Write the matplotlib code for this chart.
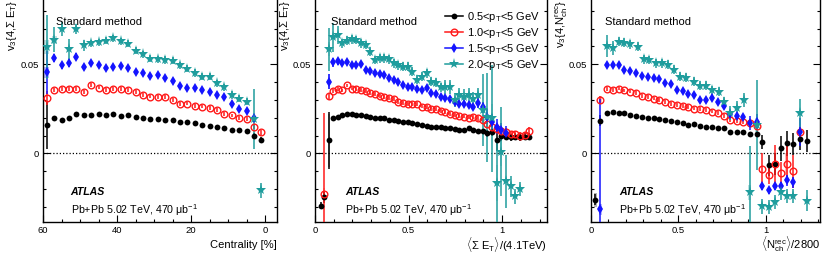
import numpy as np
import matplotlib
matplotlib.use("Agg")
from matplotlib import pyplot as plt
from matplotlib.lines import Line2D
from matplotlib.ticker import MultipleLocator

plt.rcParams["font.family"] = ["Liberation Sans", "DejaVu Sans"]
plt.rcParams["mathtext.fontset"] = "custom"
plt.rcParams["mathtext.rm"] = "Liberation Sans"
plt.rcParams["mathtext.it"] = "Liberation Sans:italic"
plt.rcParams["mathtext.bf"] = "Liberation Sans:bold"

LABELS = [r"0.5<p$_\mathrm{T}$<5 GeV", r"1.0<p$_\mathrm{T}$<5 GeV",
          r"1.5<p$_\mathrm{T}$<5 GeV", r"2.0<p$_\mathrm{T}$<5 GeV"]

nan = np.nan

# ---- panel 1: centrality
cent = [59, 57, 55, 53, 51, 49, 47, 45, 43, 41, 39, 37, 35, 33, 31, 29, 27, 25, 23, 21,
        19, 17, 15, 13, 11, 9, 7, 5, 3, 1]
cent_black = [0.0157, 0.0196, 0.0185, 0.0198, 0.0220, 0.0216, 0.0216, 0.0220, 0.0218, 0.0220,
              0.0210, 0.0216, 0.0203, 0.0200, 0.0194, 0.0192, 0.0187, 0.0185, 0.0174, 0.0175,
              0.0168, 0.0162, 0.0155, 0.0149, 0.0142, 0.0134, 0.0132, 0.0125, 0.0099, 0.0077]
cent_red = [0.0312, 0.0356, 0.0360, 0.0362, 0.0360, 0.0343, 0.0384, 0.0369, 0.0356, 0.0362,
            0.0360, 0.0356, 0.0345, 0.0328, 0.0319, 0.0317, 0.0315, 0.0300, 0.0276, 0.0280,
            0.0267, 0.0263, 0.0256, 0.0244, 0.0222, 0.0213, 0.0200, 0.0194, 0.0151, 0.0119]
cent_blue = [0.0455, 0.0535, 0.0493, 0.0507, 0.0543, 0.0485, 0.0509, 0.0496, 0.0480, 0.0483,
             0.0491, 0.0480, 0.0457, 0.0450, 0.0435, 0.0438, 0.0422, 0.0407, 0.0379, 0.0368,
             0.0366, 0.0353, 0.0347, 0.0328, 0.0319, 0.0278, 0.0252, 0.0239, 0.0198, nan]
cent_teal = [0.0595, 0.0636, 0.0698, 0.0584, 0.0698, 0.0606, 0.0618, 0.0623, 0.0632, 0.0645,
             0.0629, 0.0616, 0.0576, 0.0556, 0.0532, 0.0528, 0.0524, 0.0519, 0.0494, 0.0474,
             0.0451, 0.0431, 0.0429, 0.0394, 0.0371, 0.0328, 0.0308, 0.0289, 0.0194, -0.0207]
cent_black_err = [0.013] + [0.001] * 27 + [0.0015, 0.0015]
cent_red_err = [0.004] + [0.001] * 27 + [0.0015, 0.0015]
cent_blue_err = [0.012, 0.002, 0.002, 0.002, 0.002] + [0.0015] * 23 + [0.002, 0.002]
cent_teal_err = [0.018, 0.007, 0.004, 0.006, 0.003, 0.003] + [0.002] * 22 + [0.017, 0.004]
cent_syst = [{}, {}, {0: 0.003}, {0: 0.004, 1: 0.002}]

# ---- panel 2: <Sum ET>/(4.1 TeV)
et_x = [0.034, 0.048, 0.075, 0.096, 0.121, 0.146, 0.171, 0.196, 0.221, 0.246, 0.271, 0.296,
        0.321, 0.346, 0.371, 0.396, 0.421, 0.446, 0.471, 0.496, 0.521, 0.546, 0.571, 0.596,
        0.621, 0.646, 0.671, 0.696, 0.721, 0.746, 0.771, 0.796, 0.821, 0.846, 0.871, 0.896,
        0.921, 0.946, 0.971, 0.996, 1.021, 1.046, 1.071, 1.096, 1.121, 1.146]
et_black = [-0.0293, -0.0245, 0.0073, 0.0198, 0.0207, 0.0216, 0.0220, 0.0220, 0.0216, 0.0213,
            0.0209, 0.0205, 0.0201, 0.0198, 0.0196, 0.0190, 0.0187, 0.0181, 0.0179, 0.0175,
            0.0170, 0.0164, 0.0157, 0.0153, 0.0151, 0.0149, 0.0147, 0.0144, 0.0142, 0.0136,
            0.0132, 0.0129, 0.0140, 0.0132, 0.0127, 0.0125, 0.0114, 0.0118, 0.0076, 0.0099,
            0.0095, 0.0091, 0.0095, 0.0091, 0.0095, 0.0093]
et_red = [nan, -0.0226, 0.0321, 0.0349, 0.0360, 0.0353, 0.0381, 0.0364, 0.0360, 0.0356,
          0.0349, 0.0338, 0.0332, 0.0323, 0.0317, 0.0310, 0.0304, 0.0289, 0.0282, 0.0278,
          0.0278, 0.0276, 0.0263, 0.0259, 0.0248, 0.0248, 0.0239, 0.0231, 0.0222, 0.0216,
          0.0211, 0.0207, 0.0201, 0.0203, 0.0196, 0.0185, 0.0166, 0.0151, 0.0138, 0.0127,
          0.0123, 0.0108, 0.0108, 0.0099, 0.0103, 0.0127]
et_blue = [nan, nan, 0.0403, 0.0511, 0.0517, 0.0506, 0.0513, 0.0493, 0.0494, 0.0500,
           0.0468, 0.0461, 0.0453, 0.0448, 0.0440, 0.0425, 0.0412, 0.0399, 0.0382, 0.0375,
           0.0375, 0.0360, 0.0356, 0.0366, 0.0341, 0.0334, 0.0319, 0.0313, 0.0304, 0.0289,
           0.0278, 0.0276, 0.0274, 0.0259, 0.0285, 0.0259, 0.0207, 0.0179, 0.0151, 0.0132,
           0.0114, nan, nan, nan, nan, nan]
et_teal = [nan, nan, 0.0584, 0.0651, 0.0664, 0.0618, 0.0632, 0.0640, 0.0636, 0.0618,
           0.0608, 0.0571, 0.0524, 0.0534, 0.0534, 0.0528, 0.0506, 0.0494, 0.0487, 0.0487,
           0.0459, 0.0412, 0.0431, 0.0450, 0.0403, 0.0397, 0.0371, 0.0371, 0.0371, 0.0300,
           0.0328, 0.0319, 0.0328, 0.0306, 0.0328, 0.0244, 0.0203, 0.0198, -0.0166, 0.0011,
           -0.0157, -0.0185, -0.0241, -0.0200, nan, nan]
et_black_err = [0.002, 0.003, 0.016] + [0.001] * 33 + [0.002, 0.002, 0.006, 0.003,
                                                      0.002, 0.002, 0.002, 0.002, 0.002, 0.002]
et_red_err = [0.0, 0.045, 0.002] + [0.001] * 31 + [0.0015] * 6 + [0.002] * 6
et_blue_err = [0.0, 0.0, 0.004, 0.0025, 0.002] + [0.0015] * 29 + [0.003, 0.003, 0.004,
                                                                0.004, 0.004, 0.004, 0.004] + [0.0] * 5
et_teal_err = [0.0, 0.0, 0.012, 0.008, 0.005] + [0.0025] * 22 + [0.004] * 8 + [
    0.02, 0.025, 0.03, 0.025, 0.025, 0.015, 0.006, 0.004, 0.004, 0.0, 0.0]
et_syst = [{2: 0.015}, {1: 0.003}, {2: 0.004}, {2: 0.004, 37: 0.008, 38: 0.01, 39: 0.008}]

# ---- panel 3: <Nch rec>/2800
nch_x = [0.025, 0.053, 0.092, 0.124, 0.158, 0.191, 0.225, 0.258, 0.292, 0.324, 0.359, 0.391,
         0.426, 0.458, 0.492, 0.525, 0.557, 0.592, 0.624, 0.658, 0.691, 0.725, 0.758, 0.797,
         0.835, 0.870, 0.908, 0.947, 0.981, 1.017, 1.052, 1.088, 1.120, 1.156, 1.195, 1.233]
nch_black = [-0.0259, 0.0183, 0.0226, 0.0231, 0.0229, 0.0226, 0.0218, 0.0211, 0.0207, 0.0201,
             0.0198, 0.0192, 0.0185, 0.0181, 0.0179, 0.0172, 0.0160, 0.0166, 0.0155, 0.0151,
             0.0147, 0.0142, 0.0140, 0.0121, 0.0123, 0.0119, 0.0110, 0.0110, 0.0063, -0.0067,
             -0.0058, 0.0030, 0.0056, 0.0054, 0.0080, 0.0071]
nch_red = [nan, 0.0300, 0.0360, 0.0356, 0.0364, 0.0353, 0.0347, 0.0338, 0.0323, 0.0315,
           0.0308, 0.0300, 0.0289, 0.0278, 0.0271, 0.0267, 0.0259, 0.0252, 0.0248, 0.0244,
           0.0235, 0.0226, 0.0209, 0.0188, 0.0181, 0.0177, 0.0170, 0.0155, -0.0088, -0.0121,
           -0.0060, -0.0110, -0.0060, -0.0101, 0.0121, nan]
nch_blue = [nan, -0.0312, 0.0496, 0.0496, 0.0496, 0.0468, 0.0463, 0.0453, 0.0435, 0.0427,
            0.0422, 0.0418, 0.0394, 0.0390, 0.0356, 0.0351, 0.0334, 0.0325, 0.0300, 0.0300,
            0.0313, 0.0291, 0.0267, 0.0220, 0.0211, 0.0207, 0.0170, 0.0179, -0.0185, -0.0207,
            -0.0185, -0.0181, -0.0151, -0.0162, 0.0121, nan]
nch_teal_x = [0.092, 0.124, 0.158, 0.191, 0.225, 0.267, 0.302, 0.334, 0.372, 0.406, 0.439,
              0.477, 0.511, 0.546, 0.588, 0.622, 0.656, 0.693, 0.731, 0.763, 0.798, 0.836,
              0.874, 0.908, 0.947, 0.981, 1.017, 1.052, 1.088, 1.120, 1.156, 1.195, 1.233]
nch_teal = [0.0603, 0.0593, 0.0627, 0.0621, 0.0612, 0.0599, 0.0528, 0.0524, 0.0506, 0.0506,
            0.0496, 0.0468, 0.0431, 0.0425, 0.0403, 0.0379, 0.0379, 0.0353, 0.0347, 0.0291,
            0.0226, 0.0254, 0.0300, -0.0218, 0.0160, -0.0297, -0.0300, -0.0270, -0.0218,
            -0.0237, -0.0237, 0.0226, -0.0265]
nch_black_err = [0.003, 0.003] + [0.001] * 26 + [0.004, 0.006, 0.006, 0.007, 0.007, 0.006,
                                                0.006, 0.006]
nch_red_err = [0.0, 0.002] + [0.001] * 26 + [0.009, 0.005, 0.011, 0.006, 0.010, 0.009,
                                            0.003, 0.0]
nch_blue_err = [0.0, 0.062] + [0.0015] * 24 + [0.004, 0.004, 0.002, 0.002, 0.002, 0.002,
                                              0.003, 0.003, 0.008, 0.0]
nch_teal_err = [0.006, 0.004] + [0.0025] * 18 + [0.004, 0.004, 0.004, 0.026, 0.025, 0.004,
                                                0.004, 0.004, 0.004, 0.004, 0.004, 0.008, 0.006]
nch_syst = [{0: 0.004, 30: 0.006}, {1: 0.002, 30: 0.006, 32: 0.006}, {1: 0.003},
            {23: 0.004, 24: 0.004}]

STYLES = [
    dict(color="black", marker="o", ms=4.2, mfc="black", mew=0),
    dict(color="#ff1a1a", marker="o", ms=4.8, mfc="none", mew=1.0),
    dict(color="#1414ff", marker="d", ms=5.6, mfc="#1414ff", mew=0),
    dict(color="#1f9d9d", marker="*", ms=8, mfc="#1f9d9d", mew=0),
]


def draw_series(ax, x, y, err, syst, st, box_w):
    x = np.asarray(x, float)
    y = np.asarray(y, float)
    for i, s in syst.items():
        ax.bar(x[i], 2 * s, bottom=y[i] - s, width=box_w, color=st["color"],
               alpha=0.3, linewidth=0, zorder=1)
    ax.errorbar(x, y, yerr=err, fmt=st["marker"], color=st["color"], ms=st["ms"],
                mfc=st["mfc"], mec=st["color"], mew=st["mew"], elinewidth=1.1,
                capsize=0, zorder=3)


def style_axes(ax, xlim, xmajor, xminor):
    ax.set_xlim(*xlim)
    ax.set_ylim(-0.0384, 0.086)
    ax.xaxis.set_major_locator(MultipleLocator(xmajor))
    ax.xaxis.set_minor_locator(MultipleLocator(xminor))
    ax.yaxis.set_major_locator(MultipleLocator(0.05))
    ax.yaxis.set_minor_locator(MultipleLocator(0.01))
    ax.yaxis.set_major_formatter(plt.FuncFormatter(lambda v, _: "0" if abs(v) < 1e-9 else f"{v:g}"))
    ax.xaxis.set_major_formatter(plt.FuncFormatter(lambda v, _: f"{v:g}"))
    ax.tick_params(which="both", direction="in", left=True, right=True, bottom=True,
                   top=False, labelsize=6.8, pad=3, width=0.8)
    ax.tick_params(which="major", length=5)
    ax.tick_params(which="minor", length=2.5)
    ax.spines["top"].set_visible(False)
    for s in ("left", "right", "bottom"):
        ax.spines[s].set_linewidth(1.0)
    ax.axhline(0, color="black", lw=0.9, ls=(0, (1, 1.6)), zorder=2)


fig = plt.figure(figsize=(8.3, 2.58), dpi=100)
edges = [(43, 277), (315, 547), (591, 820)]
axes = [fig.add_axes([l / 830, 36 / 258, (r - l) / 830, 222 / 258]) for l, r in edges]

panels = [
    (cent, [cent_black, cent_red, cent_blue, cent_teal],
     [cent_black_err, cent_red_err, cent_blue_err, cent_teal_err], cent_syst, 1.4),
    (et_x, [et_black, et_red, et_blue, et_teal],
     [et_black_err, et_red_err, et_blue_err, et_teal_err], et_syst, 0.012),
    (nch_x, [nch_black, nch_red, nch_blue, nch_teal],
     [nch_black_err, nch_red_err, nch_blue_err, nch_teal_err], nch_syst, 0.016),
]

for k, (ax, (xs, ys, errs, systs, bw)) in enumerate(zip(axes, panels)):
    for j in range(4):
        x = nch_teal_x if (k == 2 and j == 3) else xs
        draw_series(ax, x, ys[j], errs[j], systs[j], STYLES[j], bw)

style_axes(axes[0], (60, -3.2), 20, 5)
style_axes(axes[1], (0, 1.24), 0.5, 0.1)
style_axes(axes[2], (0, 1.31), 0.5, 0.1)

ylabels = [r"v$_3${4,$\Sigma$ E$_\mathrm{T}$}", r"v$_3${4,$\Sigma$ E$_\mathrm{T}$}",
           r"v$_3${4,N$_\mathrm{ch}^\mathrm{rec}$}"]
xlabels = ["Centrality [%]", r"$\langle\Sigma$ E$_\mathrm{T}\rangle$/(4.1TeV)",
           r"$\langle$N$_\mathrm{ch}^\mathrm{rec}\rangle$/2800"]
ylab_x = [-0.132, -0.129, -0.128]
xlab_y = [-0.104, -0.1, -0.1]
text_x = [0.056, 0.069, 0.061]

for ax, yl, xl, yx, xy, tx in zip(axes, ylabels, xlabels, ylab_x, xlab_y, text_x):
    lab = ax.set_ylabel(yl, fontsize=8, loc="top")
    ax.yaxis.set_label_coords(yx, 1.0)
    lab.set_va("center")
    lab = ax.set_xlabel(xl, fontsize=8, loc="right")
    ax.xaxis.set_label_coords(1.0, xy)
    lab.set_va("center")
    ax.text(tx, 0.9, "Standard method", transform=ax.transAxes, fontsize=8, va="center")
    ax.text(tx + 0.062, 0.137, "ATLAS", transform=ax.transAxes, fontsize=7.6,
            fontweight="bold", style="italic", va="center")
    ax.text(tx + 0.062, 0.054, "Pb+Pb 5.02 TeV, 470 μb$^{-1}$", transform=ax.transAxes,
            fontsize=7.7, va="center")

handles = [Line2D([], [], color=st["color"], marker=st["marker"], ms=st["ms"],
                  mfc=st["mfc"], mec=st["color"], mew=st["mew"], lw=1.1) for st in STYLES]
axes[1].legend(handles, LABELS, loc="upper left", bbox_to_anchor=(0.56, 0.955),
               frameon=False, fontsize=8, handlelength=1.6, handletextpad=0.35,
               labelspacing=0.18, borderaxespad=0, borderpad=0)

fig.savefig("out.png", dpi=100)
